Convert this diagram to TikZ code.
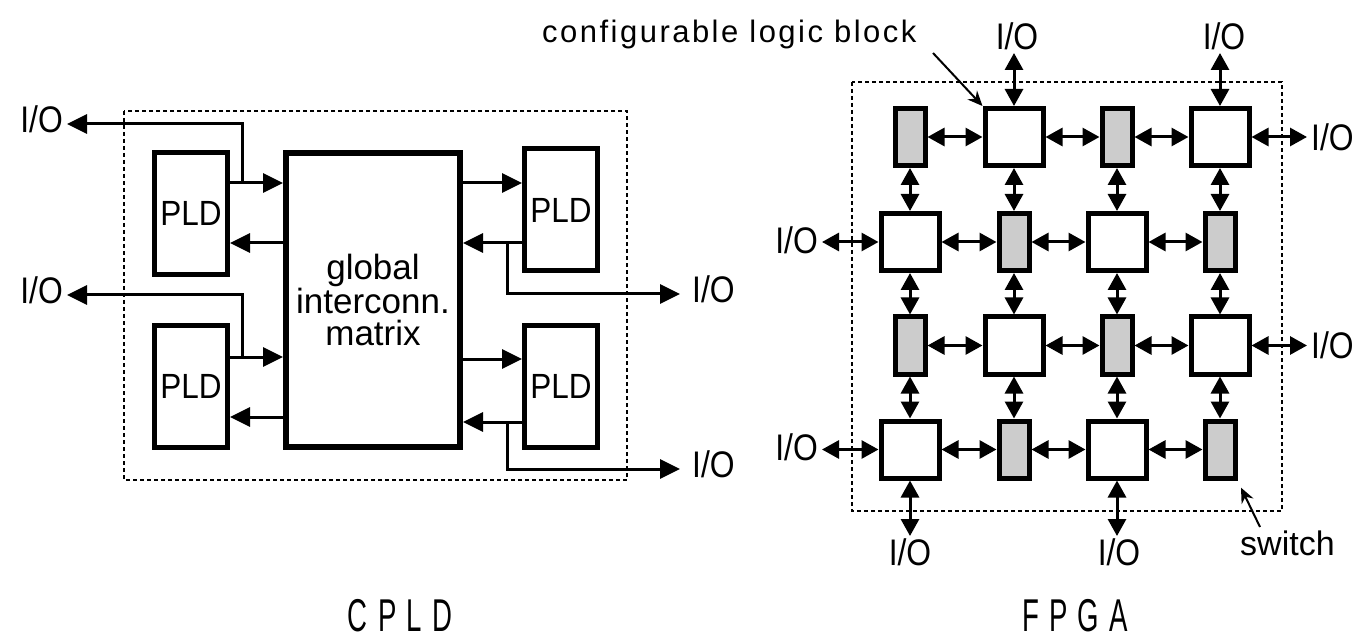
\documentclass[tikz,border=0pt]{standalone}
\usepackage{fontspec}
\setmainfont{Liberation Sans}
\usetikzlibrary{arrows.meta}
\newcommand\hsq[2]{\scalebox{#1}[1]{#2}}
\newcommand\gapsp{\hspace{17pt}}
\begin{document}
\begin{tikzpicture}[x=1pt,y=-1pt,
  every node/.style={inner sep=0pt},
  pld/.style={draw, fill=white, line width=5pt, minimum width=73pt, minimum height=122pt, font=\fontsize{35}{35}\selectfont},
  mtx/.style={draw, fill=white, line width=6pt, minimum width=174pt, minimum height=294pt, align=center, font=\fontsize{35}{32}\selectfont},
  clb/.style={draw, fill=white, line width=5pt, minimum width=58pt, minimum height=57pt},
  sw/.style={draw, fill=gray!40, line width=5pt, minimum width=30pt, minimum height=57pt},
  iotext/.style={font=\fontsize{37}{37}\selectfont, inner sep=4pt},
  lbl/.style={font=\fontsize{34}{34}\selectfont},
  conn/.style={line width=3pt, -{Triangle[length=20pt,width=19pt]}},
  dconn/.style={line width=3pt, {Triangle[length=17pt,width=18pt]}-{Triangle[length=17pt,width=18pt]}},
  frame/.style={line width=2.5pt, dash pattern=on 4pt off 3pt},
  ptr/.style={line width=2pt, -{Stealth[length=15pt,width=13pt]}},
  title/.style={font=\fontsize{46}{46}\selectfont},
]
\fill[white] (0,0) rectangle (1361,639);
\useasboundingbox (0,0) rectangle (1361,639);

% ---------------- CPLD ----------------
\draw[frame] (124,111) rectangle (627,480);
\node[pld] (P1) at (191,213.5) {\hsq{0.9}{PLD}};
\node[pld] (P2) at (191,386.5) {\hsq{0.9}{PLD}};
\node[mtx] (M) at (373,300) {global\\interconn.\\matrix};
\node[pld] (P3) at (561,210) {\hsq{0.9}{PLD}};
\node[pld] (P4) at (561,386.5) {\hsq{0.9}{PLD}};

\coordinate (a1) at (0,183);
\coordinate (a2) at (0,243);
\coordinate (a3) at (0,357);
\coordinate (a4) at (0,417);
\coordinate (b3) at (0,359);
\coordinate (b4) at (0,422);

\draw[conn] (P1.east |- a1) -- (M.west |- a1);
\draw[conn] (M.west |- a2) -- (P1.east |- a2);
\draw[conn] (P2.east |- a3) -- (M.west |- a3);
\draw[conn] (M.west |- a4) -- (P2.east |- a4);
\draw[conn] (M.east |- a1) -- (P3.west |- a1);
\draw[conn] (P3.west |- a2) -- (M.east |- a2);
\draw[conn] (M.east |- b3) -- (P4.west |- b3);
\draw[conn] (P4.west |- b4) -- (M.east |- b4);

\node[iotext, anchor=east] (IO1) at (67,119) {\hsq{0.86}{I/O}};
\node[iotext, anchor=east] (IO2) at (67,290) {\hsq{0.86}{I/O}};
\node[iotext, anchor=west, inner xsep=12pt] (IO3) at (680,289) {\hsq{0.86}{I/O}};
\node[iotext, anchor=west, inner xsep=12pt] (IO4) at (680,464) {\hsq{0.86}{I/O}};

\coordinate (j1) at (242,183);
\coordinate (j2) at (242,357);
\coordinate (j3) at (507,243);
\coordinate (j4) at (507,422);
\draw[conn] (j1) |- ([yshift=-5pt]IO1.east);
\draw[conn] (j2) |- ([yshift=-5pt]IO2.east);
\draw[conn] (j3) |- ([yshift=-5pt]IO3.west);
\draw[conn] (j4) |- ([yshift=-5pt]IO4.west);

\node[title] (cpldt) at (400,616) {\hsq{0.6}{C\gapsp P\gapsp L\gapsp D}};

% ---------------- FPGA ----------------
\draw[frame] (852,82) rectangle (1282,511);

\node[sw]  (n11) at (910,137) {};
\node[clb] (n12) at (1014,137) {};
\node[sw]  (n13) at (1117,137) {};
\node[clb] (n14) at (1220,137) {};
\node[clb] (n21) at (910,242) {};
\node[sw]  (n22) at (1014,242) {};
\node[clb] (n23) at (1117,242) {};
\node[sw]  (n24) at (1220,242) {};
\node[sw]  (n31) at (910,345.5) {};
\node[clb] (n32) at (1014,345.5) {};
\node[sw]  (n33) at (1117,345.5) {};
\node[clb] (n34) at (1220,345.5) {};
\node[clb] (n41) at (910,449.5) {};
\node[sw]  (n42) at (1014,449.5) {};
\node[clb] (n43) at (1117,449.5) {};
\node[sw]  (n44) at (1220,449.5) {};

\foreach \r in {1,2,3,4}{
  \foreach \c/\d in {1/2,2/3,3/4}{
    \draw[dconn] (n\r\c.east) -- (n\r\d.west);
  }
}
\foreach \c in {1,2,3,4}{
  \foreach \r/\s in {1/2,2/3,3/4}{
    \draw[dconn] (n\r\c.south) -- (n\s\c.north);
  }
}

\node[iotext, anchor=south, inner sep=3pt] (T1) at (1017,53) {\hsq{0.86}{I/O}};
\node[iotext, anchor=south, inner sep=3pt] (T2) at (1224,53) {\hsq{0.86}{I/O}};
\node[iotext, anchor=west] (R1) at (1307,137) {\hsq{0.86}{I/O}};
\node[iotext, anchor=west] (R2) at (1307,345.5) {\hsq{0.86}{I/O}};
\node[iotext, anchor=east] (L1) at (822,240) {\hsq{0.86}{I/O}};
\node[iotext, anchor=east] (L2) at (822,447) {\hsq{0.86}{I/O}};
\node[iotext, anchor=north, inner sep=2pt] (B1) at (910,536) {\hsq{0.86}{I/O}};
\node[iotext, anchor=north, inner sep=2pt] (B2) at (1119,536) {\hsq{0.86}{I/O}};

\draw[dconn] (n12.north) -- (n12.north |- T1.south);
\draw[dconn] (n14.north) -- (n14.north |- T2.south);
\draw[dconn] (n14.east) -- (R1.west |- n14.east);
\draw[dconn] (n34.east) -- (R2.west |- n34.east);
\draw[dconn] (L1.east |- n21.west) -- (n21.west);
\draw[dconn] (L2.east |- n41.west) -- (n41.west);
\draw[dconn] (n41.south) -- (n41.south |- B1.north);
\draw[dconn] (n43.south) -- (n43.south |- B2.north);

\node[lbl, anchor=base west] (cfg) at (542,43) {\addfontfeature{LetterSpace=8}\fontsize{31}{31}\selectfont configurable logic block};
\coordinate (cfgt) at (933,53);
\draw[ptr] (cfgt) -- (n12.north west);

\node[lbl, anchor=base west] (swl) at (1240,555) {switch};
\coordinate (swt) at (1260,527);
\draw[ptr, shorten >=8pt] (swt) -- (n44.south east);

\node[title] (fpgat) at (1075,616) {\hsq{0.6}{F\gapsp P\gapsp G\gapsp A}};
\end{tikzpicture}
\end{document}
